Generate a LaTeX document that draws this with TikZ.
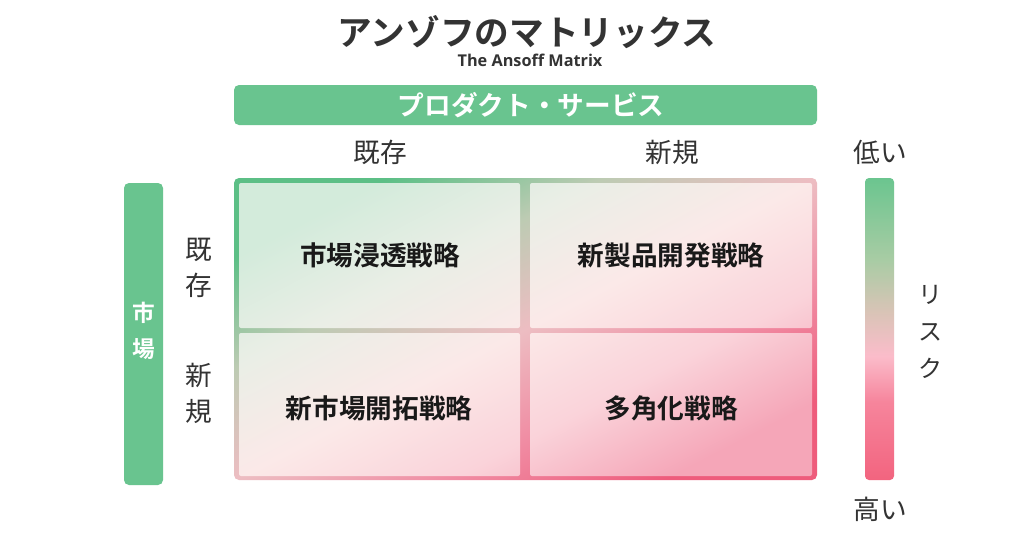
\documentclass[tikz,border=0pt]{standalone}
\usepackage{fontspec}
\setmainfont{Noto Sans CJK JP}[BoldFont={Noto Sans CJK JP Bold}]
\newfontfamily\latinfont{Open Sans}
\usepackage{xcolor}
\usepackage{tikz}
\definecolor{mgreen}{HTML}{69C48F}
\definecolor{txtgray}{HTML}{333333}
\definecolor{bpink}{HTML}{EE5C7C}
\definecolor{bpinkb}{HTML}{F08CA3}
\definecolor{bmid}{HTML}{EDBDC2}
\definecolor{bgreenb}{HTML}{BDCBB3}
\definecolor{bgreen}{HTML}{5CBF86}
\definecolor{cpink}{HTML}{F5A6B8}
\definecolor{cpinkb}{HTML}{FAD3DA}
\definecolor{cmid}{HTML}{FBE9E8}
\definecolor{cgreenb}{HTML}{EAEEE6}
\definecolor{cgreen}{HTML}{D3EBDB}
\definecolor{rpink}{HTML}{F2647F}
\definecolor{rpinkb}{HTML}{F6859C}
\definecolor{rlight}{HTML}{FBBCCA}
\definecolor{rmid}{HTML}{D8C4B6}
\definecolor{rgreenb}{HTML}{A8CCA4}
\definecolor{rgreen}{HTML}{6BC58F}
\pgfdeclareverticalshading{matborder}{100bp}{color(0bp)=(bpink); color(25bp)=(bpink); color(37.5bp)=(bpinkb); color(50bp)=(bmid); color(62.5bp)=(bgreenb); color(75bp)=(bgreen); color(100bp)=(bgreen)}
\pgfdeclareverticalshading{matcell}{100bp}{color(0bp)=(cpink); color(25bp)=(cpink); color(37.5bp)=(cpinkb); color(50bp)=(cmid); color(62.5bp)=(cgreenb); color(75bp)=(cgreen); color(100bp)=(cgreen)}
\pgfdeclareverticalshading{riskbar}{100bp}{color(0bp)=(rpink); color(25bp)=(rpink); color(38bp)=(rpinkb); color(45.5bp)=(rlight); color(53bp)=(rmid); color(61.5bp)=(rgreenb); color(75bp)=(rgreen); color(100bp)=(rgreen)}
\begin{document}
\begin{tikzpicture}[x=0.75pt,y=-0.75pt,
	lbl/.style={inner sep=0pt,text=txtgray,font=\fontsize{20}{27}\selectfont,align=center},
	cell/.style={inner sep=0pt,text=black!90,font=\fontsize{20}{24}\selectfont\bfseries},
	bar/.style={fill=mgreen,rounded corners=3.75pt},
	bartext/.style={inner sep=0pt,text=white,align=center}]
			\fill[white] (0,0) rectangle (1024,532);
			\useasboundingbox (0,0) rectangle (1024,532);
			\node[inner sep=0pt,text=txtgray,font=\fontsize{26}{30}\selectfont\bfseries] (title) at (527,32) {アンゾフのマトリックス};
			\node[inner sep=0pt,text=txtgray,font=\latinfont\fontsize{12.2}{14}\selectfont\bfseries] (subtitle) at (530,60) {The Ansoff Matrix};
			\fill[bar] (234,85) rectangle (817,125);
			\node[bartext,font=\fontsize{20}{24}\selectfont\bfseries] (product) at (531,105) {プロダクト・サービス};
			\node[lbl] (pold) at (380,152) {既存};
			\node[lbl] (pnew) at (672,152) {新規};
			\fill[bar] (124,183) rectangle (163,485);
			\node[bartext,font=\fontsize{17}{27}\selectfont\bfseries] (market) at (144,331) {市\\場};
			\node[lbl] (mold) at (199,268) {既\\存};
			\node[lbl] (mnew) at (199,393) {新\\規};
			\shade[shading=matborder,shading angle=27.38,rounded corners=3.75pt] (234,178) rectangle (817,480);
			\begin{scope}
				\clip[rounded corners=1.5pt] (239,183) rectangle (520,328) (530,183) rectangle (812,328) (239,333) rectangle (520,476) (530,333) rectangle (812,476);
				\shade[shading=matcell,shading angle=27.38] (234,178) rectangle (817,480);
			\end{scope}
			\node[cell] (penet) at (380,255) {市場浸透戦略};
			\node[cell] (prodev) at (671,255) {新製品開発戦略};
			\node[cell] (mktdev) at (379,408) {新市場開拓戦略};
			\node[cell] (divers) at (671,408) {多角化戦略};
			\shade[shading=riskbar,rounded corners=3pt] (865,178) rectangle (894,480);
			\node[lbl] (low) at (880,152) {低い};
			\node[lbl] (high) at (880,509) {高い};
			\node[lbl,font=\fontsize{18}{27.75}\selectfont] (risk) at (930,332) {リ\\ス\\ク};
		\end{tikzpicture}
\end{document}
